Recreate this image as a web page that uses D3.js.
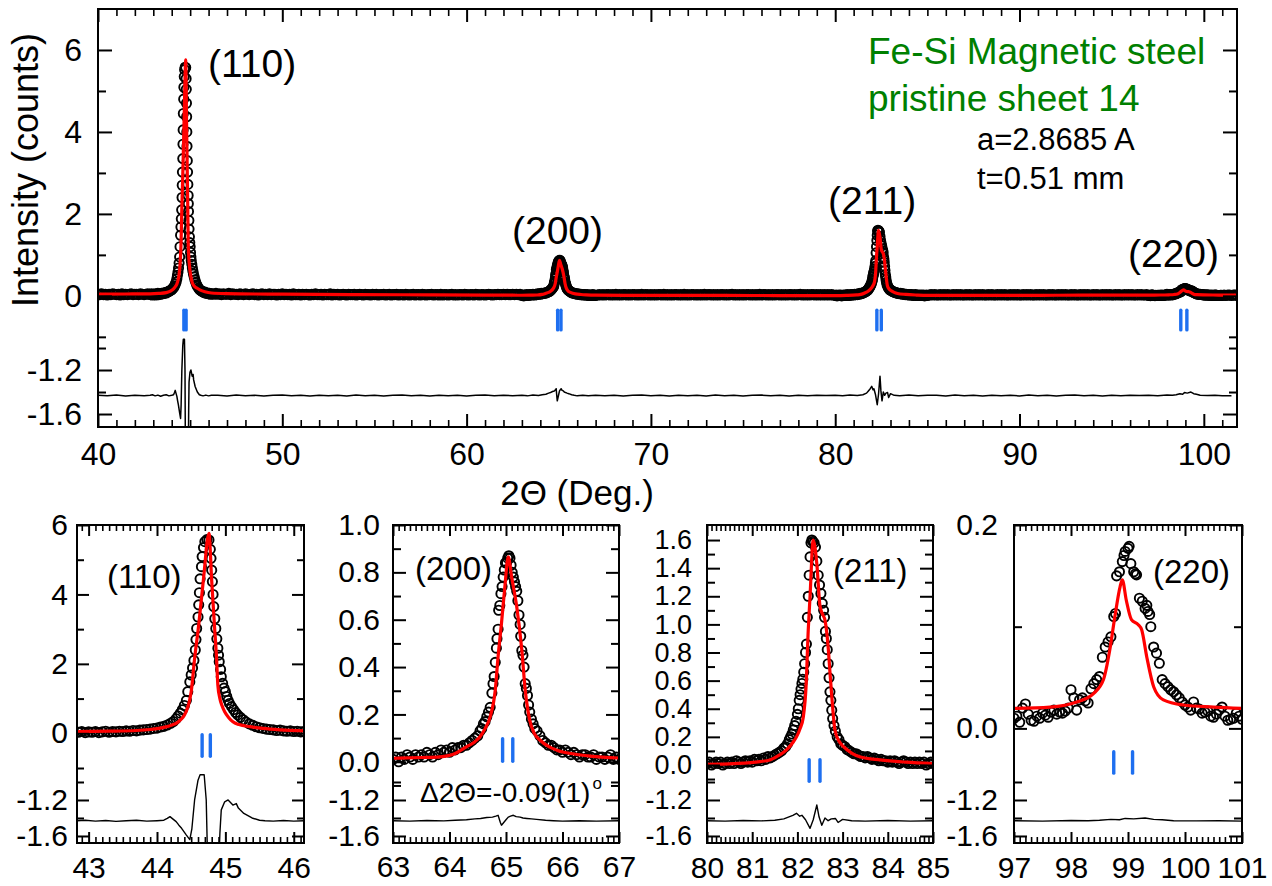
<!DOCTYPE html>
<html>
<head>
<meta charset="utf-8">
<script src="https://cdn.jsdelivr.net/npm/d3@7"></script>
<style>
  html, body { margin: 0; padding: 0; background: #fff; }
  svg { display: block; }
  text { font-family: Arial, "Liberation Sans", Helvetica, sans-serif; fill: #000; }
</style>
</head>
<body>
<svg id="chart" width="1272" height="886"></svg>
<script>
// ---------------------------------------------------------------------------
// Fe-Si magnetic steel, pristine sheet 14: X-ray powder pattern with fit.
// Intensities in counts (x1000 scale of the instrument), 2-theta in degrees.
// ---------------------------------------------------------------------------

// Background scan between the reflections, step 0.1 deg, values in 0.01 counts
const BG_STEP = 0.1;
const bgA = [4,3,5,3,4,2,4,3,5,4,3,4,2,5,3,4,3,4,5,3,4,4,3,5,4,3,4,5,4];            // 40.0 - 42.8
const bgB = [5,4,6,4,5,3,5,4,4,6,3,5,4,4,3,5,4,3,5,4,
             3,4,5,3,4,2,4,5,3,4,3,5,3,4,4,2,4,3,5,3,
             4,3,4,2,5,3,3,4,2,4,3,4,3,2,4,3,5,3,3,4,
             2,4,3,3,5,2,4,3,4,2,3,4,3,2,4,3,3,4,2,3,
             4,3,2,4,3,3,2,4,3,4,2,3,3,4,2,3,4,2,3,3,
             4,2,3,3,2,4,3,2,3,4,2,3,3,2,4,3,2,3,3,4,
             2,3,3,2,4,2,3,3,2,3,4,2,3,2,3,3,2,4,3,2,
             3,3,2,4,3,2,3,3,2,3,4,3,2,3,3,4,3,3,4,3,
             4,3,3,4,3,4,3,4];                                                      // 46.2 - 62.9
const bgC = [2,3,2,3,2,3,3,2,3,2,4,2,3,2,3,3,2,3,2,3,
             3,2,3,2,4,2,3,3,2,3,2,3,2,3,3,2,4,2,3,2,
             3,2,3,3,2,3,2,4,2,3,2,3,3,2,3,2,3,2,4,2,
             3,3,2,3,2,3,2,3,3,2,3,2,3,4,2,3,2,3,2,3,
             2,3,3,2,3,2,3,2,4,2,3,3,2,3,2,3,2,3,3,2,
             3,2,3,2,3,3,2,3,2,3,4,2,3,2,3,2,3,3,2,3,
             2,3,2,3,2,3,2,3,2];                                                    // 67.1 - 79.9
const bgD = [2,3,2,3,2,2,3,2,3,2,3,2,2,3,2,3,2,3,2,2,
             3,2,3,2,2,3,2,3,2,3,2,2,3,2,3,2,2,3,2,3,
             2,3,2,2,3,2,3,2,3,2,2,3,2,3,2,3,2,2,3,2,
             3,2,3,2,2,3,2,3,2,2,3,2,3,2,3,2,2,3,2,3,
             2,2,3,2,3,2,3,2,2,3,2,3,2,2,3,2,3,2,3,2,
             2,3,2,3,2,2,3,2,3,2,3,2,2,3,2,3,2,2,3];                                // 85.1 - 96.9
const bgE = [2,1,2,2,1,2,2,1];                                                      // 101.1 - 101.8

// Observed counts around each reflection: [2theta, counts]
const obs110 = [[42.85,.03],[42.90,.05],[42.95,.02],[43.00,.04],[43.05,.03],[43.10,.05],[43.15,.02],[43.20,.04],
  [43.25,.06],[43.30,.03],[43.35,.05],[43.40,.04],[43.45,.06],[43.50,.05],[43.55,.07],[43.60,.06],[43.65,.08],
  [43.70,.07],[43.75,.09],[43.80,.10],[43.85,.11],[43.90,.12],[43.95,.14],[44.00,.15],[44.05,.18],[44.10,.20],
  [44.15,.24],[44.20,.29],[44.24,.34],[44.28,.42],[44.31,.50],[44.34,.58],[44.37,.68],[44.40,.80],[44.43,.95],
  [44.45,1.20],[44.48,1.48],[44.50,1.68],[44.52,1.88],[44.54,2.10],[44.56,2.40],[44.57,2.70],[44.58,3.02],
  [44.60,3.35],[44.61,3.70],[44.62,4.05],[44.63,4.45],[44.65,4.80],[44.66,5.09],[44.68,5.35],[44.70,5.52],
  [44.73,5.58],[44.76,5.57],[44.78,5.30],[44.79,5.04],[44.80,4.70],[44.81,4.37],[44.82,4.00],[44.83,3.65],
  [44.845,3.30],[44.86,3.02],[44.875,2.72],[44.89,2.45],[44.90,2.25],[44.91,2.06],[44.93,1.84],[44.94,1.63],
  [44.96,1.44],[44.98,1.30],[45.00,1.20],[45.02,1.06],[45.04,.95],[45.06,.86],[45.09,.77],[45.12,.68],
  [45.15,.60],[45.18,.53],[45.22,.46],[45.26,.39],[45.30,.33],[45.35,.27],[45.40,.23],[45.45,.19],[45.50,.16],
  [45.55,.14],[45.60,.12],[45.65,.11],[45.70,.10],[45.75,.08],[45.80,.09],[45.85,.07],[45.90,.06],[45.95,.07],
  [46.00,.05],[46.05,.06],[46.10,.04],[46.15,.05]];

const obs200 = [[63.00,.01],[63.05,.02],[63.10,.00],[63.15,.02],[63.20,.01],[63.25,.03],[63.30,.02],[63.35,.01],
  [63.40,.03],[63.45,.02],[63.50,.03],[63.55,.02],[63.60,.04],[63.65,.03],[63.70,.02],[63.75,.04],[63.80,.03],
  [63.85,.05],[63.90,.04],[63.95,.05],[64.00,.04],[64.05,.06],[64.10,.05],[64.15,.06],[64.20,.06],[64.25,.07],
  [64.30,.07],[64.35,.08],[64.40,.09],[64.45,.10],[64.50,.11],[64.54,.13],[64.57,.14],[64.60,.16],[64.63,.17],
  [64.66,.19],[64.69,.21],[64.72,.23],[64.75,.29],[64.77,.33],[64.79,.36],[64.81,.42],[64.83,.48],[64.84,.52],
  [64.86,.56],[64.87,.64],[64.89,.66],[64.91,.71],[64.93,.74],[64.95,.78],[64.97,.81],[64.99,.84],[65.01,.84],
  [65.03,.86],[65.05,.87],[65.07,.86],[65.09,.83],[65.11,.80],[65.13,.78],[65.15,.76],[65.17,.74],[65.19,.72],
  [65.21,.68],[65.23,.62],[65.25,.58],[65.26,.53],[65.28,.47],[65.30,.45],[65.32,.40],[65.34,.33],[65.36,.31],
  [65.38,.28],[65.40,.24],[65.42,.21],[65.45,.18],[65.48,.16],[65.51,.14],[65.55,.13],[65.60,.11],[65.65,.09],
  [65.70,.08],[65.75,.07],[65.80,.07],[65.85,.06],[65.90,.05],[65.95,.05],[66.00,.04],[66.05,.05],[66.10,.04],
  [66.15,.03],[66.20,.04],[66.25,.03],[66.30,.02],[66.35,.03],[66.40,.03],[66.45,.02],[66.50,.02],[66.55,.03],
  [66.60,.01],[66.65,.02],[66.70,.02],[66.75,.01],[66.80,.02],[66.85,.03],[66.90,.01],[66.95,.02],[67.00,.01]];

const obs211 = [[80.00,.01],[80.05,.02],[80.10,.00],[80.15,.01],[80.20,.02],[80.25,.01],[80.30,.02],[80.35,.00],
  [80.40,.01],[80.45,.02],[80.50,.01],[80.55,.02],[80.60,.01],[80.65,.03],[80.70,.02],[80.75,.01],[80.80,.02],
  [80.85,.03],[80.90,.02],[80.95,.03],[81.00,.02],[81.05,.04],[81.10,.03],[81.15,.04],[81.20,.03],[81.25,.05],
  [81.30,.04],[81.35,.06],[81.40,.05],[81.45,.06],[81.50,.07],[81.55,.08],[81.60,.09],[81.65,.10],[81.70,.12],
  [81.74,.13],[81.78,.15],[81.82,.18],[81.85,.20],[81.88,.22],[81.91,.25],[81.94,.28],[81.97,.31],[82.00,.36],
  [82.02,.40],[82.04,.46],[82.06,.50],[82.08,.54],[82.10,.58],[82.12,.61],[82.14,.66],[82.16,.72],[82.18,.80],
  [82.20,.86],[82.22,1.05],[82.24,1.20],[82.26,1.35],[82.28,1.48],[82.30,1.58],[82.32,1.60],[82.34,1.59],
  [82.37,1.58],[82.40,1.55],[82.43,1.45],[82.46,1.35],[82.49,1.28],[82.52,1.22],[82.55,1.15],[82.58,1.10],
  [82.60,1.05],[82.62,.95],[82.64,.90],[82.66,.82],[82.68,.72],[82.70,.62],[82.72,.52],[82.74,.46],[82.76,.39],
  [82.78,.33],[82.81,.28],[82.84,.24],[82.88,.20],[82.92,.18],[82.96,.15],[83.00,.14],[83.05,.13],[83.10,.11],
  [83.15,.10],[83.20,.09],[83.25,.08],[83.30,.08],[83.35,.07],[83.40,.06],[83.45,.06],[83.50,.05],[83.55,.06],
  [83.60,.05],[83.65,.04],[83.70,.05],[83.75,.04],[83.80,.03],[83.85,.04],[83.90,.03],[83.95,.03],[84.00,.02],
  [84.05,.03],[84.10,.02],[84.15,.03],[84.20,.02],[84.25,.01],[84.30,.02],[84.35,.03],[84.40,.02],[84.45,.01],
  [84.50,.02],[84.55,.01],[84.60,.02],[84.65,.01],[84.70,.02],[84.75,.01],[84.80,.02],[84.85,.00],[84.90,.01],
  [84.95,.02],[85.00,.01]];

const obs220 = [[97.00,.010],[97.05,.012],[97.10,.006],[97.15,.020],[97.20,.024],[97.25,.014],[97.30,.008],
  [97.35,.007],[97.40,.012],[97.45,.010],[97.50,.015],[97.55,.013],[97.60,.011],[97.65,.016],[97.70,.018],
  [97.75,.014],[97.80,.016],[97.85,.015],[97.90,.017],[97.95,.020],[98.00,.038],[98.05,.030],[98.10,.018],
  [98.15,.028],[98.20,.030],[98.25,.027],[98.30,.025],[98.35,.039],[98.40,.044],[98.45,.048],[98.50,.051],
  [98.55,.070],[98.60,.080],[98.65,.085],[98.70,.090],[98.75,.110],[98.78,.113],[98.80,.150],[98.85,.154],
  [98.90,.164],[98.93,.170],[98.95,.174],[99.00,.177],[99.02,.179],[99.05,.162],[99.10,.154],[99.13,.152],
  [99.15,.151],[99.20,.128],[99.25,.125],[99.30,.118],[99.33,.121],[99.35,.115],[99.38,.112],[99.40,.100],
  [99.45,.080],[99.50,.074],[99.55,.064],[99.60,.048],[99.65,.044],[99.70,.041],[99.75,.038],[99.80,.036],
  [99.85,.033],[99.90,.030],[99.95,.026],[100.00,.023],[100.05,.021],[100.10,.018],[100.15,.026],[100.20,.020],
  [100.25,.019],[100.30,.015],[100.35,.016],[100.40,.017],[100.45,.012],[100.50,.011],[100.55,.014],
  [100.60,.018],[100.65,.021],[100.70,.012],[100.75,.008],[100.80,.009],[100.85,.010],[100.90,.015],
  [100.95,.012],[101.00,.009]];

// Calculated (refined) profile: [2theta, counts]
const calcBackground = [[40.0,.04],[41.5,.045],[42.5,.05],[47.0,.055],[50.0,.04],[54.0,.03],[58.0,.025],
  [61.0,.02],[62.5,.016],[70.0,.012],[74.0,.01],[77.0,.008],[79.5,.006],[88.0,.012],[92.0,.015],[95.0,.018],
  [96.5,.019],[101.8,.019]];
const calc110 = [[42.83,.05],[43.3,.06],[43.7,.08],[43.9,.11],[44.1,.17],[44.22,.24],[44.29,.30],[44.35,.40],
  [44.40,.52],[44.45,.75],[44.48,.98],[44.50,1.20],[44.55,2.15],[44.61,3.12],[44.68,4.45],[44.76,5.76],
  [44.80,4.40],[44.84,3.12],[44.87,2.20],[44.89,1.39],[44.92,1.00],[44.95,.80],[44.99,.62],[45.05,.45],
  [45.11,.33],[45.20,.25],[45.36,.19],[45.55,.14],[45.80,.10],[46.15,.07]];
const calc200 = [[63.0,.015],[63.5,.018],[63.83,.021],[64.1,.035],[64.30,.063],[64.45,.085],[64.54,.106],
  [64.63,.14],[64.72,.19],[64.81,.303],[64.86,.444],[64.92,.585],[64.98,.74],[65.04,.866],[65.10,.78],
  [65.19,.655],[65.28,.472],[65.34,.303],[65.42,.176],[65.50,.12],[65.60,.092],[65.75,.065],[65.90,.049],
  [66.2,.033],[66.49,.024],[67.0,.016]];
const calc211 = [[80.0,.005],[80.6,.01],[81.17,.024],[81.39,.036],[81.6,.07],[81.76,.107],[81.9,.16],
  [81.98,.20],[82.06,.26],[82.13,.34],[82.19,.55],[82.24,.96],[82.28,1.20],[82.35,1.60],[82.43,1.43],
  [82.50,1.13],[82.56,1.07],[82.61,1.03],[82.68,.84],[82.72,.66],[82.76,.49],[82.83,.25],[82.92,.17],
  [83.02,.13],[83.2,.085],[83.38,.059],[83.83,.036],[84.4,.02],[85.0,.01]];
const calc220 = [[97.0,.0197],[97.63,.021],[98.10,.026],[98.39,.034],[98.57,.048],[98.68,.077],[98.77,.110],
  [98.86,.139],[98.90,.146],[98.97,.126],[99.06,.107],[99.18,.102],[99.24,.097],[99.33,.070],[99.45,.041],
  [99.62,.028],[99.97,.023],[100.5,.021],[101.0,.0197]];

// Difference curve (observed - calculated, shifted onto the lower scale)
const DIFF_STEP = 0.5;
const diffBgA = [-1.430,-1.435,-1.428,-1.436,-1.430,-1.433];                          // 40.0 - 42.5
const diffBgB = [-1.430,-1.436,-1.428,-1.434,-1.430,-1.437,-1.430,-1.428,-1.435,-1.430,-1.437,-1.429,
  -1.434,-1.430,-1.436,-1.428,-1.433,-1.430,-1.437,-1.430,-1.428,-1.435,-1.430,-1.436,-1.429,-1.433,
  -1.430,-1.436,-1.430,-1.428,-1.435,-1.430,-1.433];                                    // 46.5 - 62.5
const diffBgC = [-1.433,-1.429,-1.436,-1.430,-1.428,-1.435,-1.430,-1.437,-1.429,-1.433,-1.430,-1.436,
  -1.428,-1.434,-1.430,-1.437,-1.430,-1.428,-1.435,-1.430,-1.436,-1.429,-1.433,-1.430,-1.432]; // 67.5 - 79.5
const diffBgD = [-1.430,-1.436,-1.428,-1.434,-1.430,-1.437,-1.429,-1.433,-1.430,-1.436,-1.428,-1.435,
  -1.430,-1.437,-1.430,-1.428,-1.434,-1.430,-1.436,-1.429,-1.433,-1.430,-1.432];         // 85.5 - 96.5
const diffBgE = [-1.433];                                                               // 101.5
const diff110 = [[42.83,-1.43],[42.95,-1.425],[43.1,-1.435],[43.25,-1.428],[43.4,-1.438],[43.55,-1.43],
  [43.7,-1.425],[43.85,-1.435],[44.0,-1.43],[44.1,-1.425],[44.15,-1.405],[44.19,-1.385],[44.23,-1.41],
  [44.28,-1.44],[44.32,-1.48],[44.36,-1.515],[44.43,-1.59],[44.48,-1.64],[44.51,-1.52],[44.55,-1.2],
  [44.60,-0.98],[44.63,-0.92],[44.69,-0.92],[44.72,-1.2],[44.75,-2.2],[44.89,-2.2],[44.92,-1.57],
  [44.94,-1.31],[44.99,-1.22],[45.04,-1.20],[45.11,-1.256],[45.16,-1.24],[45.19,-1.29],[45.27,-1.35],
  [45.39,-1.40],[45.5,-1.425],[45.58,-1.43],[45.7,-1.435],[45.85,-1.428],[46.0,-1.435],[46.15,-1.43]];
const diff200 = [[63.0,-1.43],[63.3,-1.435],[63.6,-1.428],[63.9,-1.432],[64.1,-1.425],[64.3,-1.42],
  [64.45,-1.41],[64.55,-1.405],[64.66,-1.395],[64.76,-1.39],[64.82,-1.38],[64.86,-1.37],[64.90,-1.45],
  [64.92,-1.48],[64.96,-1.45],[65.0,-1.42],[65.04,-1.39],[65.08,-1.38],[65.13,-1.37],[65.18,-1.385],
  [65.25,-1.39],[65.3,-1.40],[65.37,-1.405],[65.45,-1.41],[65.54,-1.415],[65.7,-1.425],[65.84,-1.43],
  [66.0,-1.435],[66.3,-1.43],[66.6,-1.435],[67.0,-1.43]];
const diff211 = [[80.0,-1.43],[80.4,-1.435],[80.8,-1.428],[81.2,-1.432],[81.5,-1.425],[81.7,-1.41],
  [81.8,-1.39],[81.9,-1.37],[81.98,-1.348],[82.05,-1.38],[82.1,-1.37],[82.18,-1.42],[82.28,-1.515],
  [82.35,-1.42],[82.43,-1.256],[82.48,-1.39],[82.54,-1.48],[82.61,-1.40],[82.68,-1.43],[82.75,-1.41],
  [82.84,-1.405],[82.9,-1.45],[83.0,-1.415],[83.2,-1.43],[83.5,-1.435],[84.0,-1.428],[84.5,-1.435],[85.0,-1.43]];
const diff220 = [[97.0,-1.43],[97.5,-1.435],[98.0,-1.428],[98.3,-1.43],[98.5,-1.425],[98.7,-1.415],
  [98.85,-1.42],[98.95,-1.405],[99.1,-1.41],[99.3,-1.40],[99.45,-1.415],[99.6,-1.42],[99.8,-1.43],
  [100.2,-1.432],[100.6,-1.43],[101.0,-1.435]];

// Bragg positions (K-alpha1 / K-alpha2) of the bcc phase
const bragg110 = [44.66, 44.78];
const bragg200 = [64.94, 65.12];
const bragg211 = [82.26, 82.50];
const bragg220 = [98.75, 99.08];

// Tick values
const mainXTicks = [40, 50, 60, 70, 80, 90, 100];
const mainYTicks = [0, 2, 4, 6];
const mainYMinor = [-1, 1, 3, 5];
const diffYTicks = [-1.2, -1.6];
const diffYMinor = [-1.0, -1.4];
const xTicks110 = [43, 44, 45, 46];
const xTicks200 = [63, 64, 65, 66, 67];
const xTicks211 = [80, 81, 82, 83, 84, 85];
const xTicks220 = [97, 98, 99, 100, 101];
const yTicks110 = [0, 2, 4, 6];
const yMinor110 = [-1, 1, 3, 5];
const yTicks200 = [0.0, 0.2, 0.4, 0.6, 0.8, 1.0];
const yMinor200 = [-0.1, 0.1, 0.3, 0.5, 0.7, 0.9];
const yTicks211 = [0.0, 0.2, 0.4, 0.6, 0.8, 1.0, 1.2, 1.4, 1.6];
const yMinor211 = [-0.1, 0.1, 0.3, 0.5, 0.7, 0.9, 1.1, 1.3, 1.5];
const yTicks220 = [0.0, 0.2];
const yMinor220 = [0.1];

const peakLabels = ["(110)", "(200)", "(211)", "(220)"];
const sampleTitle = ["Fe-Si Magnetic steel", "pristine sheet 14"];
const fitParams = ["a=2.8685 A", "t=0.51 mm"];
const shiftLabel = "\u03942\u0398=-0.09(1)";

// ---------------------------------------------------------------------------
const bgPts = (start, vals) => vals.map((v, i) => [start + i * BG_STEP, v / 100]);
const diffPts = (start, vals) => vals.map((v, i) => [start + i * DIFF_STEP, v]);
const byX = (a, b) => a[0] - b[0];

const obsAll = [].concat(bgPts(40.0, bgA), obs110, bgPts(46.2, bgB), obs200, bgPts(67.1, bgC),
                         obs211, bgPts(85.1, bgD), obs220, bgPts(101.1, bgE));
const calcAll = [].concat(calcBackground, calc110, calc200, calc211, calc220).sort(byX);
const diffAll = [].concat(diffPts(40.0, diffBgA), diff110, diffPts(46.5, diffBgB), diff200,
                          diffPts(67.5, diffBgC), diff211, diffPts(85.5, diffBgD), diff220,
                          diffPts(101.5, diffBgE)).sort(byX);

const fine = (a, b) => d3.range(Math.round(a * 10), Math.round(b * 10) + 1)
                          .filter(v => v % 10 !== 0).map(v => v / 10);
const fmt1 = d => d.toFixed(1);
const fmt0 = d => d.toFixed(0);

const panels = [
  { box: [98, 9, 1237, 427], xDomain: [40, 101.8], upDomain: [-3.2, 7.0], lowDomain: [-1.718, 2.082],
    xMajor: mainXTicks, xMinor: d3.range(41, 102).filter(v => v % 10 !== 0),
    upMajor: mainYTicks, upMinor: mainYMinor, upFmt: fmt0,
    obs: obsAll, calc: calcAll, diff: diffAll, bragg: [].concat(bragg110, bragg200, bragg211, bragg220),
    braggSpan: [-0.35, -0.83], fontSize: 32, yFontSize: 32, xPad: 15, yPad: 16,
    xLen: [13, 7], yLen: [14, 8], diffWidth: 1.5 },
  { box: [77, 525, 304, 843], xDomain: [42.83, 46.15], upDomain: [-3.16, 6], lowDomain: [-1.678, 1.856],
    xMajor: xTicks110, xMinor: fine(42.9, 46.1), upMajor: yTicks110, upMinor: yMinor110, upFmt: fmt0,
    obs: obs110, calc: calc110, diff: diff110, bragg: bragg110,
    braggSpan: [-0.04, -0.66], fontSize: 30, yFontSize: 30, xPad: 14, yPad: 9,
    xLen: [11, 6], yLen: [12, 7], diffWidth: 1.4 },
  { box: [393, 525, 619, 843], xDomain: [63, 67], upDomain: [-0.343, 1.0], lowDomain: [-1.678, 1.856],
    xMajor: xTicks200, xMinor: fine(63.1, 66.9), upMajor: yTicks200, upMinor: yMinor200, upFmt: fmt1,
    obs: obs200, calc: calc200, diff: diff200, bragg: bragg200,
    braggSpan: [0.097, 0.002], fontSize: 30, yFontSize: 30, xPad: 13, yPad: 13,
    xLen: [11, 6], yLen: [13, 8], diffWidth: 1.4 },
  { box: [707, 525, 933, 843], xDomain: [80, 85], upDomain: [-0.555, 1.707], lowDomain: [-1.678, 1.856],
    xMajor: xTicks211, xMinor: fine(80.1, 84.9), upMajor: yTicks211, upMinor: yMinor211, upFmt: fmt1,
    obs: obs211, calc: calc211, diff: diff211, bragg: bragg211,
    braggSpan: [0.037, -0.116], fontSize: 30, yFontSize: 27, xPad: 14, yPad: 15,
    xLen: [11, 6], yLen: [13, 8], diffWidth: 1.4 },
  { box: [1014, 525, 1242, 843], xDomain: [97, 101], upDomain: [-0.1127, 0.2], lowDomain: [-1.678, 1.856],
    xMajor: xTicks220, xMinor: fine(97.1, 100.9), upMajor: yTicks220, upMinor: yMinor220, upFmt: fmt1,
    obs: obs220, calc: calc220, diff: diff220, bragg: bragg220,
    braggSpan: [-0.023, -0.044], fontSize: 30, yFontSize: 30, xPad: 14, yPad: 16,
    xLen: [11, 6], yLen: [13, 8], diffWidth: 1.4 }
];

const svg = d3.select("#chart");
svg.append("rect").attr("width", 1272).attr("height", 886).attr("fill", "#fff");
const defs = svg.append("defs");
const FONT = "Arial, 'Liberation Sans', Helvetica, sans-serif";

function addAxis(g, transform, axis, fontSize, strokeW) {
  const a = g.append("g").attr("transform", transform).call(axis);
  a.select(".domain").remove();
  a.selectAll(".tick line").attr("stroke", "#000").attr("stroke-width", strokeW);
  a.selectAll(".tick text").style("font-size", fontSize + "px").style("font-family", FONT).attr("fill", "#000");
  return a;
}

panels.forEach((p, i) => {
  const [x0, y0, x1, y1] = p.box;
  const x = d3.scaleLinear().domain(p.xDomain).range([x0, x1]);
  const yU = d3.scaleLinear().domain(p.upDomain).range([y1, y0]);
  const yL = d3.scaleLinear().domain(p.lowDomain).range([y1, y0]);
  const g = svg.append("g").attr("class", "panel");

  defs.append("clipPath").attr("id", "clip" + i)
    .append("rect").attr("x", x0).attr("y", y0).attr("width", x1 - x0).attr("height", y1 - y0);
  const plot = g.append("g").attr("clip-path", `url(#clip${i})`);

  // observed points
  plot.append("g").selectAll("circle")
    .data(p.obs.filter(d => d[0] >= p.xDomain[0] - 0.1 && d[0] <= p.xDomain[1] + 0.1))
    .join("circle")
    .attr("cx", d => x(d[0])).attr("cy", d => yU(d[1])).attr("r", 4.6)
    .attr("fill", "none").attr("stroke", "#000").attr("stroke-width", 1.9);

  // calculated profile
  plot.append("path").datum(p.calc)
    .attr("d", d3.line().x(d => x(d[0])).y(d => yU(d[1])).curve(d3.curveMonotoneX))
    .attr("fill", "none").attr("stroke", "#ff0000").attr("stroke-width", 3.2).attr("stroke-linejoin", "round");

  // Bragg reflection markers
  plot.append("g").selectAll("line").data(p.bragg).join("line")
    .attr("x1", d => x(d)).attr("x2", d => x(d))
    .attr("y1", yU(p.braggSpan[0])).attr("y2", yU(p.braggSpan[1]))
    .attr("stroke", "#1e6ff0").attr("stroke-width", 3.4).attr("stroke-linecap", "round");

  // difference curve
  plot.append("path").datum(p.diff)
    .attr("d", d3.line().x(d => x(d[0])).y(d => yL(d[1])))
    .attr("fill", "none").attr("stroke", "#000").attr("stroke-width", p.diffWidth).attr("stroke-linejoin", "round");

  // axes: ticks point inward on all four sides
  const none = () => "";
  const [xMaj, xMin] = p.xLen, [yMaj, yMin] = p.yLen;
  addAxis(g, `translate(0,${y1})`, d3.axisBottom(x).tickValues(p.xMajor).tickSize(-xMaj).tickPadding(p.xPad).tickFormat(fmt0), p.fontSize, 2);
  addAxis(g, `translate(0,${y1})`, d3.axisBottom(x).tickValues(p.xMinor).tickSize(-xMin).tickFormat(none), p.fontSize, 1.6);
  addAxis(g, `translate(0,${y0})`, d3.axisTop(x).tickValues(p.xMajor).tickSize(-xMaj).tickFormat(none), p.fontSize, 2);
  addAxis(g, `translate(0,${y0})`, d3.axisTop(x).tickValues(p.xMinor).tickSize(-xMin).tickFormat(none), p.fontSize, 1.6);

  addAxis(g, `translate(${x0},0)`, d3.axisLeft(yU).tickValues(p.upMajor).tickSize(-yMaj).tickPadding(p.yPad).tickFormat(p.upFmt), p.yFontSize, 2);
  addAxis(g, `translate(${x0},0)`, d3.axisLeft(yU).tickValues(p.upMinor).tickSize(-yMin).tickFormat(none), p.yFontSize, 2);
  addAxis(g, `translate(${x0},0)`, d3.axisLeft(yL).tickValues(diffYTicks).tickSize(-yMaj).tickPadding(p.yPad).tickFormat(fmt1), p.yFontSize, 2);
  addAxis(g, `translate(${x0},0)`, d3.axisLeft(yL).tickValues(diffYMinor).tickSize(-yMin).tickFormat(none), p.yFontSize, 2);

  addAxis(g, `translate(${x1},0)`, d3.axisRight(yU).tickValues(p.upMajor).tickSize(-yMaj).tickFormat(none), p.fontSize, 2);
  addAxis(g, `translate(${x1},0)`, d3.axisRight(yU).tickValues(p.upMinor).tickSize(-yMin).tickFormat(none), p.fontSize, 2);
  addAxis(g, `translate(${x1},0)`, d3.axisRight(yL).tickValues(diffYTicks).tickSize(-yMaj).tickFormat(none), p.fontSize, 2);
  addAxis(g, `translate(${x1},0)`, d3.axisRight(yL).tickValues(diffYMinor).tickSize(-yMin).tickFormat(none), p.fontSize, 2);

  // frame
  g.append("rect").attr("x", x0).attr("y", y0).attr("width", x1 - x0).attr("height", y1 - y0)
    .attr("fill", "none").attr("stroke", "#000").attr("stroke-width", 2);
});

// ---- annotations ----
const ann = svg.append("g");
const mainPeakPos = [[208, 77], [512, 244], [828, 214], [1128, 267]];
const insetPeakPos = [[107, 588], [415, 580], [833, 582], [1153, 583]];
peakLabels.forEach((t, i) => {
  ann.append("text").attr("x", mainPeakPos[i][0]).attr("y", mainPeakPos[i][1]).style("font-size", "39px").text(t);
  ann.append("text").attr("x", insetPeakPos[i][0]).attr("y", insetPeakPos[i][1]).style("font-size", "33px").text(t);
});

sampleTitle.forEach((t, i) => {
  ann.append("text").attr("x", 868).attr("y", 64 + i * 47).style("font-size", "37px")
    .style("fill", "#008000").text(t);
});
fitParams.forEach((t, i) => {
  ann.append("text").attr("x", 977).attr("y", 150 + i * 39).style("font-size", "31px").text(t);
});

const sh = ann.append("text").attr("x", 420).attr("y", 802).style("font-size", "28px").text(shiftLabel);
sh.append("tspan").attr("dy", -13).attr("dx", 2).style("font-size", "17px").text("o");

ann.append("text").attr("transform", "translate(38,170) rotate(-90)").attr("text-anchor", "middle")
  .style("font-size", "36px").text("Intensity (counts)");
ann.append("text").attr("x", 577).attr("y", 505).attr("text-anchor", "middle")
  .style("font-size", "35px").text("2\u0398 (Deg.)");
</script>
</body>
</html>
